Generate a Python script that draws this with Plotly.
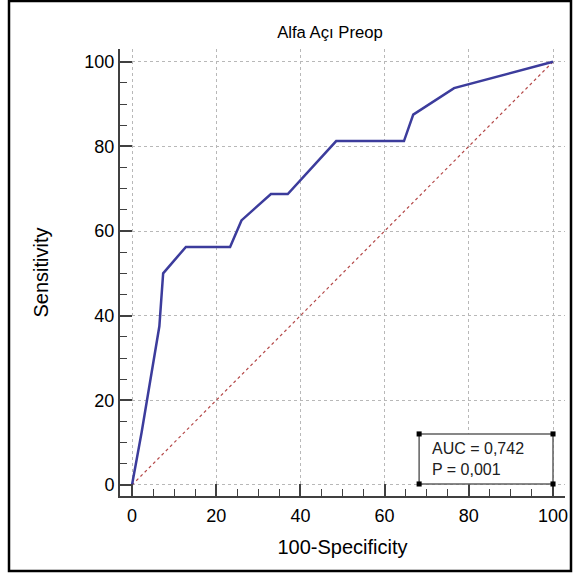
import plotly.graph_objects as go

# ROC curve points (100-Specificity, Sensitivity)
fpr = [0, 2.3, 6.5, 7.4, 12.8, 23.3, 26.0, 33.0, 37.0, 48.5, 64.6, 66.8, 76.5, 100]
tpr = [0, 12.5, 37.5, 50.0, 56.25, 56.25, 62.5, 68.75, 68.75, 81.25, 81.25, 87.5, 93.75, 100]
diag_x = [0, 100]
diag_y = [0, 100]
tick_vals = [0, 20, 40, 60, 80, 100]
title_text = "Alfa Açı Preop"
x_title = "100-Specificity"
y_title = "Sensitivity"
stats_lines = ["AUC = 0,742", "P = 0,001"]

FONT = "Liberation Sans, Arial, sans-serif"

fig = go.Figure()
fig.add_trace(go.Scatter(x=diag_x, y=diag_y, mode="lines",
                         line=dict(color="#b44848", width=1.2, dash="dot"),
                         hoverinfo="skip", showlegend=False))
fig.add_trace(go.Scatter(x=fpr, y=tpr, mode="lines",
                         line=dict(color="#3c3c9c", width=2.5),
                         showlegend=False))

axis_common = dict(
    showline=True, linecolor="#404040", linewidth=2,
    ticks="inside", ticklen=12, tickwidth=1.5, tickcolor="#404040",
    tickvals=tick_vals,
    showgrid=True, gridcolor="#b8b8b8", griddash="dot", gridwidth=1,
    zeroline=False, automargin=False,
    tickfont=dict(family=FONT, size=18, color="black"),
    minor=dict(dtick=5, ticks="inside", ticklen=7, tickwidth=1.2, tickcolor="#404040", showgrid=False),
    mirror=False,
)

fig.update_layout(
    width=573, height=574,
    margin=dict(l=120, r=8, t=49, b=78),
    paper_bgcolor="white", plot_bgcolor="white",
    title=dict(text=title_text, x=(330) / 573, xanchor="center", y=1 - 32 / 574, yanchor="middle",
               font=dict(family=FONT, size=16.7, color="black")),
    xaxis=dict(range=[-2.85, 102.85], title=dict(text=x_title, standoff=15,
               font=dict(family=FONT, size=20, color="black")), ticklabelstandoff=2, **axis_common),
    yaxis=dict(range=[-2.6, 103.0], title=dict(text=y_title, standoff=30,
               font=dict(family=FONT, size=20, color="black")), ticklabelstandoff=0, **axis_common),
    font=dict(family=FONT),
)

# statistics box
fig.add_shape(type="rect", xref="x", yref="y", x0=68.2, x1=100, y0=0.24, y1=12.06,
              line=dict(color="#606060", width=1.5), fillcolor="white", layer="above")
for cx in (68.2, 100):
    for cy in (0.24, 12.06):
        fig.add_shape(type="rect", xref="x", yref="y", x0=cx - 0.6, x1=cx + 0.6,
                      y0=cy - 0.6, y1=cy + 0.6, line=dict(color="black", width=0),
                      fillcolor="black", layer="above")
fig.add_annotation(xref="x", yref="y", x=70.8, y=6.2, xanchor="left", yanchor="middle",
                   text="<br>".join(stats_lines), showarrow=False, align="left",
                   font=dict(family=FONT, size=16, color="#202020"))

# outer frame
fig.add_shape(type="rect", xref="paper", yref="paper",
              x0=(9 - 120) / 445, x1=(571 - 120) / 445,
              y0=(496 - 571) / 447, y1=(496 - 1) / 447,
              line=dict(color="black", width=2.5), fillcolor="rgba(0,0,0,0)")

fig.write_html("out.html")
